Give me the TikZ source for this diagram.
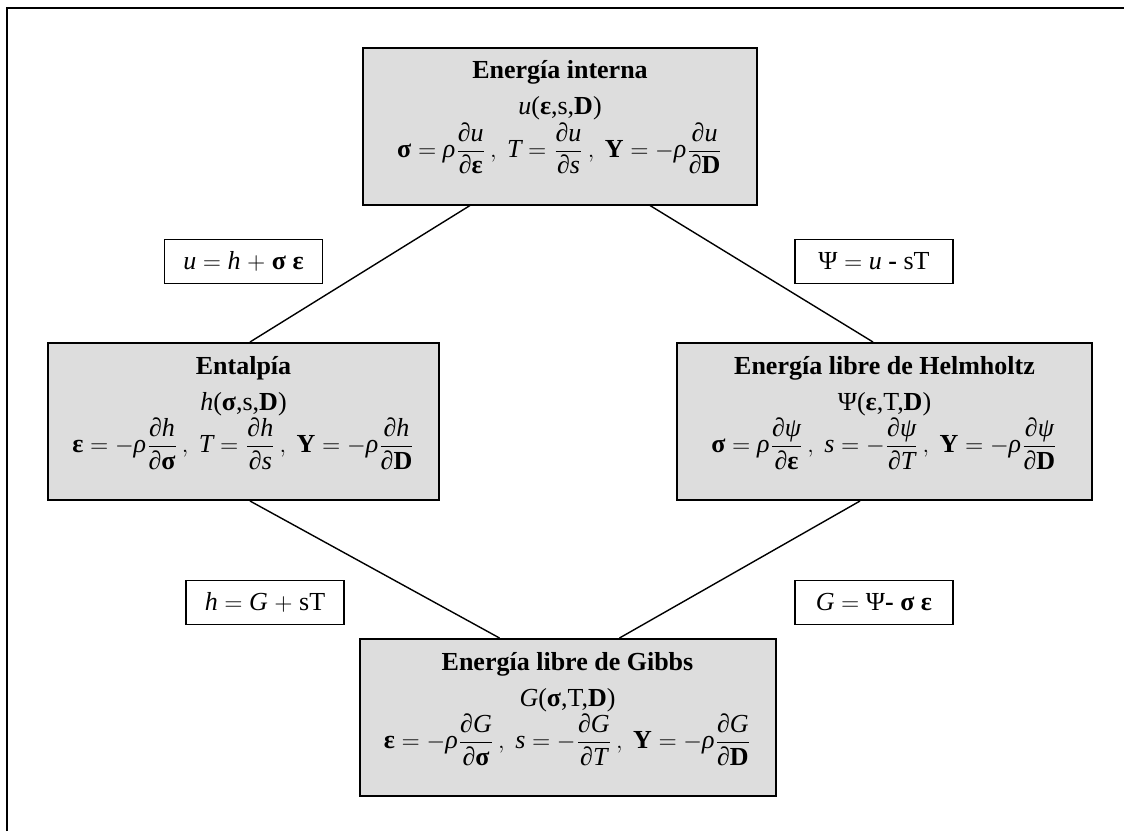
\documentclass[tikz,border=0pt]{standalone}
\usepackage{amsmath}
\usepackage{fontspec}
\setmainfont{Liberation Serif}
\usepackage{tikz}
\usetikzlibrary{positioning}

\definecolor{grisclaro}{RGB}{221,221,221}

\newcommand{\itl}[1]{\textit{#1}}
\newcommand{\dpar}{\text{∂}}
\newcommand{\vsig}{\textbf{σ}}
\newcommand{\veps}{\textbf{ε}}
\newcommand{\vY}{\textbf{Y}}
\newcommand{\vD}{\textbf{D}}
\newcommand{\rhoi}{\textit{ρ}}
\newcommand{\psii}{\textit{ψ}}

\begin{document}
\begin{tikzpicture}[x=0.5pt, y=-0.5pt, node distance=80pt, on grid,
    caja/.style={draw, line width=1pt, fill=grisclaro, align=center,
        minimum height=78.5pt, font=\fontsize{13}{18}\selectfont,
        execute at end node={\rule[-17pt]{0pt}{0pt}}},
    relacion/.style={draw, line width=0.8pt, fill=white, minimum width=79pt,
        minimum height=22pt, font=\fontsize{13}{15.6}\selectfont},
    enlace/.style={line width=0.7pt}]
    \useasboundingbox (0,0) rectangle (1124,831);
    \draw[line width=1pt] (7,831) -- (7,8) -- (1124,8);

    \node[caja, minimum width=197pt] (int) at (560,126)
        {\textbf{Energía interna}\\ \itl{u}(\veps,s,\vD)\\
         $\vsig = \rhoi\dfrac{\dpar\itl{u}}{\dpar\veps}\,,\ \itl{T} = \dfrac{\dpar\itl{u}}{\dpar\itl{s}}\,,\ \vY = -\rhoi\dfrac{\dpar\itl{u}}{\dpar\vD}$};
    \node[caja, minimum width=195.5pt] (ent) [below left=147.75pt and 158.25pt of int]
        {\textbf{Entalpía}\\ \itl{h}(\vsig,s,\vD)\\
         $\veps = -\rhoi\dfrac{\dpar\itl{h}}{\dpar\vsig}\,,\ \itl{T} = \dfrac{\dpar\itl{h}}{\dpar\itl{s}}\,,\ \vY = -\rhoi\dfrac{\dpar\itl{h}}{\dpar\vD}$};
    \node[caja, minimum width=207.5pt] (helm) [below right=147.75pt and 162.25pt of int]
        {\textbf{Energía libre de Helmholtz}\\ Ψ(\veps,T,\vD)\\
         $\vsig = \rhoi\dfrac{\dpar\psii}{\dpar\veps}\,,\ \itl{s} = -\dfrac{\dpar\psii}{\dpar\itl{T}}\,,\ \vY = -\rhoi\dfrac{\dpar\psii}{\dpar\vD}$};
    \node[caja, minimum width=208pt] (gibbs) [below right=148pt and 162pt of ent]
        {\textbf{Energía libre de Gibbs}\\ \itl{G}(\vsig,T,\vD)\\
         $\veps = -\rhoi\dfrac{\dpar\itl{G}}{\dpar\vsig}\,,\ \itl{s} = -\dfrac{\dpar\itl{G}}{\dpar\itl{T}}\,,\ \vY = -\rhoi\dfrac{\dpar\itl{G}}{\dpar\vD}$};

    % relaciones entre potenciales
    \node[relacion] (rel-uh) [above=of ent] {\itl{u} $=$ \itl{h} $+$ \textbf{σ ε}};
    \node[relacion, xshift=-5.25pt] (rel-psiu) [above=of helm] {Ψ $=$ \itl{u} \textbf{-} sT};
    \node[relacion, xshift=10.75pt] (rel-hg) [below=90.5pt of ent] {\itl{h} $=$ \itl{G} $+$ sT};
    \node[relacion, xshift=-5.25pt] (rel-gpsi) [below=90.5pt of helm] {\itl{G} $=$ Ψ\textbf{- σ ε}};

    \draw[enlace] ([xshift=-45pt]int.south) -- ([xshift=3.25pt]ent.north);
    \draw[enlace] ([xshift=45pt]int.south) -- ([xshift=-5.75pt]helm.north);
    \draw[enlace] ([xshift=3.25pt]ent.south) -- ([xshift=-34pt]gibbs.north);
    \draw[enlace] ([xshift=-12.25pt]helm.south) -- ([xshift=26pt]gibbs.north);
\end{tikzpicture}
\end{document}
